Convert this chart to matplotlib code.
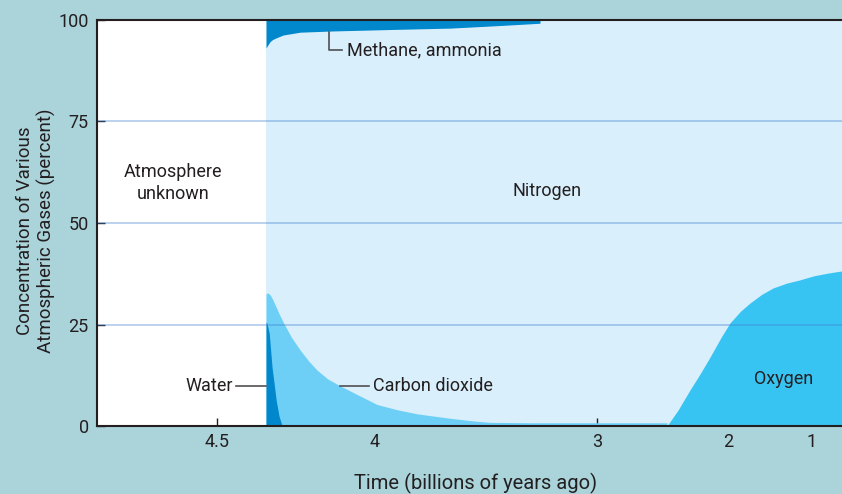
import numpy as np
import matplotlib.pyplot as plt

plt.rcParams['font.family'] = ['Roboto', 'DejaVu Sans']

TEXT = '#231f20'
BG = '#abd3da'
C_NITROGEN = '#d9effc'
C_CO2 = '#6dcff6'
C_OXYGEN = '#38c4f2'
C_DARK = '#0087cc'

# x axis: billions of years ago (the printed axis is not evenly spaced)
TICK_YEARS = [4.5, 4, 3, 2, 1]
TICK_LABELS = ['4.5', '4', '3', '2', '1']
AXIS_YEARS = [0, 1, 2, 3, 4, 4.5, 6]
AXIS_POS = [896, 812, 728, 597, 375, 217, -257]

RECORD_START = 4.345   # left of this the atmosphere is unknown
X_LEFT, X_RIGHT = 4.88, 0.643

# gas concentrations (percent)
water_t = [4.345, 4.342, 4.335, 4.326, 4.313, 4.304, 4.294]
water = [25.6, 25.3, 22.9, 14.5, 6.4, 2.5, 0.0]

co2_t = [4.345, 4.340, 4.332, 4.324, 4.316, 4.304, 4.291, 4.265, 4.237, 4.21,
         4.184, 4.15, 4.111, 4.05, 3.991, 3.9, 3.811, 3.662, 3.55, 3.482,
         3.3, 2.466]
co2 = [32.5, 32.8, 32.3, 31.2, 29.8, 27.7, 25.6, 21.9, 18.7, 16.0,
       13.8, 11.6, 9.9, 7.5, 5.3, 4.0, 3.0, 1.9, 1.2, 0.9,
       0.8, 0.8]

oxygen_t = [2.466, 2.38, 2.29, 2.21, 2.137, 2.05, 1.976, 1.85, 1.738, 1.6,
            1.464, 1.3, 1.143, 0.976, 0.8, 0.643]
oxygen = [0.0, 4.0, 8.9, 13.0, 17.0, 22.0, 25.4, 28.3, 30.3, 32.4,
          34.0, 35.2, 36.0, 37.0, 37.7, 38.2]

methane_t = [4.345, 4.338, 4.332, 4.324, 4.316, 4.291, 4.237, 4.133, 3.9, 3.662,
             3.45, 3.257]
methane = [6.9, 6.0, 5.3, 4.8, 4.5, 3.7, 3.0, 2.7, 2.3, 2.0,
           1.4, 0.8]


def forward(x):
    return -np.interp(x, AXIS_YEARS, AXIS_POS)


def inverse(u):
    return np.interp(-u, AXIS_POS[::-1], AXIS_YEARS[::-1])


fig = plt.figure(figsize=(8.42, 4.94), dpi=100, facecolor=BG)
ax = fig.add_axes([97 / 842, 68 / 494, 745 / 842, 406 / 494])
ax.set_facecolor('white')
ax.set_xscale('function', functions=(forward, inverse))
ax.set_xlim(X_LEFT, X_RIGHT)
ax.set_ylim(0, 100)

# layers
ax.axvspan(RECORD_START, X_RIGHT, color=C_NITROGEN, lw=0, zorder=1)
ax.fill_between(co2_t, 0, co2, color=C_CO2, lw=0, zorder=2)
ax.fill_between(water_t, 0, water, color=C_DARK, lw=0, zorder=3)
ax.fill_between(oxygen_t, 0, oxygen, color=C_OXYGEN, lw=0, zorder=2)
ax.fill_between(methane_t, 100 - np.array(methane), 100, color=C_DARK, lw=0, zorder=3)

for yv in [25, 50, 75]:
    ax.axhline(yv, color='#3e7ed0', alpha=0.45, lw=1.1, zorder=4)

# labels and leader lines
lead = dict(color='#505052', lw=1.2, zorder=5)
ax.plot([4.146, 4.146, 4.104], [97.1, 92.6, 92.6], **lead)
ax.text(4.089, 92.6, 'Methane, ammonia', fontsize=13, color=TEXT, va='center', ha='left', zorder=6)
ax.plot([4.111, 4.019], [9.85, 9.85], **lead)
ax.text(4.006, 9.85, 'Carbon dioxide', fontsize=13, color=TEXT, va='center', ha='left', zorder=6)
ax.plot([4.44, RECORD_START], [9.85, 9.85], **lead)
ax.text(4.449, 9.85, 'Water', fontsize=13, color=TEXT, va='center', ha='right', zorder=6)
ax.text(4.639, 59.8, 'Atmosphere\nunknown', fontsize=13, color=TEXT, ha='center', va='center',
        linespacing=1.25, zorder=6)
ax.text(3.225, 57.9, 'Nitrogen', fontsize=13, color=TEXT, ha='center', va='center', zorder=6)
ax.text(1.333, 11.6, 'Oxygen', fontsize=13, color=TEXT, ha='center', va='center', zorder=6)

# axes styling
ax.spines['right'].set_visible(False)
for s in ['left', 'bottom', 'top']:
    ax.spines[s].set_color(TEXT)
    ax.spines[s].set_linewidth(1.5)
    ax.spines[s].set_zorder(7)
ax.set_xticks(TICK_YEARS)
ax.set_xticklabels(TICK_LABELS)
ax.set_yticks([0, 25, 50, 75, 100])
ax.tick_params(axis='both', direction='in', length=6, width=1, color=TEXT,
               labelsize=13, labelcolor=TEXT)
ax.tick_params(axis='x', pad=5)
ax.tick_params(axis='y', pad=6)
ax.set_xlabel('Time (billions of years ago)', fontsize=14.5, color=TEXT)
ax.xaxis.set_label_coords(379 / 745, -47 / 406)
ax.set_ylabel('Concentration of Various\nAtmospheric Gases (percent)', fontsize=13.5,
              color=TEXT, linespacing=1.2)
ax.yaxis.set_label_coords(-41 / 745, 0.48)

fig.savefig('out.png', dpi=100, facecolor=BG)
